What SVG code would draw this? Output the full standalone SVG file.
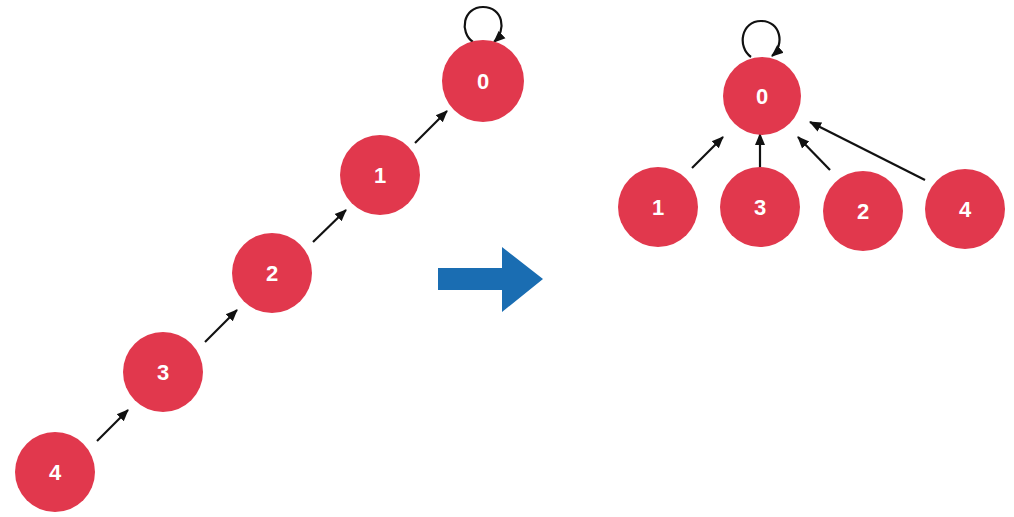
<svg xmlns="http://www.w3.org/2000/svg" width="1014" height="517" viewBox="0 0 1014 517">
<style>
.node circle{fill:#e1384d}
.node text{fill:#fff;font-family:"Liberation Sans",Arial,sans-serif;font-weight:bold;font-size:22px;text-anchor:middle;dominant-baseline:central}
.edge{stroke:#111;stroke-width:2.2;fill:none;marker-end:url(#ah)}
</style>
<defs>
<marker id="ah" markerUnits="userSpaceOnUse" markerWidth="12" markerHeight="12" viewBox="0 0 12 12" refX="11" refY="6" orient="auto">
<path d="M0,1 L12,6 L0,11 Z" fill="#111"/>
</marker>
</defs>
<rect width="1014" height="517" fill="#fff"/>
<g id="connectors">
<path class="edge" d="M97,441 L128,410"/>
<path class="edge" d="M205,342 L237,310"/>
<path class="edge" d="M313,242 L346,210"/>
<path class="edge" d="M415,143 L447,111"/>
<path class="edge" d="M473,42 C459,32 463,7 483,7 C503,7 507,30 494,42"/>
<path class="edge" d="M692,168 L723,137"/>
<path class="edge" d="M760,168 L760,134"/>
<path class="edge" d="M830,170 L798,137"/>
<path class="edge" d="M925,180 L810,122"/>
<path class="edge" d="M751,57 C737,47 741,21 761,21 C781,21 785,45 772,56"/>
</g>
<g id="big-arrow">
<path d="M438,268 L502,268 L502,247 L543,279 L502,312 L502,290 L438,290 Z" fill="#1a6db2"/>
</g>
<g id="L4" class="node"><circle cx="55" cy="472" r="40"/><text x="55" y="472">4</text></g>
<g id="L3" class="node"><circle cx="163" cy="372" r="40"/><text x="163" y="372">3</text></g>
<g id="L2" class="node"><circle cx="272" cy="273" r="40"/><text x="272" y="273">2</text></g>
<g id="L1" class="node"><circle cx="380" cy="175" r="40"/><text x="380" y="175">1</text></g>
<g id="L0" class="node"><circle cx="483" cy="81" r="41"/><text x="483" y="81">0</text></g>
<g id="R0" class="node"><circle cx="762" cy="96" r="39"/><text x="762" y="96">0</text></g>
<g id="R1" class="node"><circle cx="658" cy="207" r="40"/><text x="658" y="207">1</text></g>
<g id="R3" class="node"><circle cx="760" cy="207" r="40"/><text x="760" y="207">3</text></g>
<g id="R2" class="node"><circle cx="863" cy="211" r="40"/><text x="863" y="211">2</text></g>
<g id="R4" class="node"><circle cx="965" cy="209" r="40"/><text x="965" y="209">4</text></g>
</svg>
